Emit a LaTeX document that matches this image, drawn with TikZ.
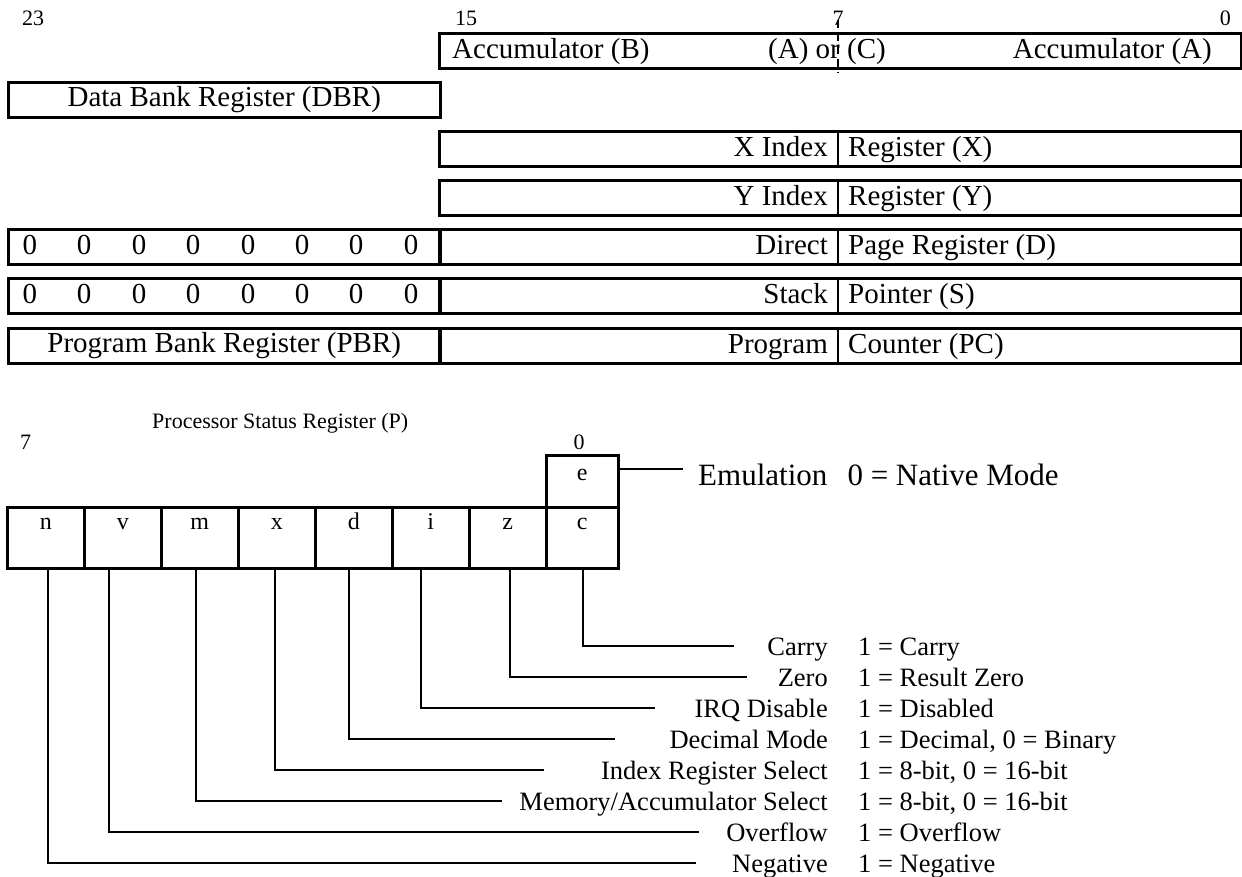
\documentclass[tikz,border=0pt]{standalone}
\usepackage{fontspec}
\setmainfont{Liberation Serif}
\usetikzlibrary{positioning}

\begin{document}
\begin{tikzpicture}[x=1pt, y=-1pt,
            reg box/.style={draw, line width=2.5pt, inner sep=0pt, minimum height=35pt, anchor=north west, font=\fontsize{29}{34}\selectfont},
            reg text/.style={font=\fontsize{29}{34}\selectfont, inner sep=0pt},
            bit num/.style={font=\fontsize{22}{26}\selectfont, inner sep=0pt},
            flag box/.style={draw, line width=2.5pt, inner sep=0pt, minimum width=77pt, minimum height=61pt, anchor=north west},
            flag text/.style={font=\fontsize{24}{28}\selectfont, inner sep=0pt, anchor=base},
            desc text/.style={font=\fontsize{26.5}{31}\selectfont, inner sep=0pt},
            flag line/.style={line width=2pt},
            ]
            \useasboundingbox (0,0) rectangle (1242,876);
            \coordinate (div) at (838,0);

            % register boxes
            \node[reg box, minimum width=802pt] (acc) at (438,32) {};
            \node[reg box, minimum width=432pt] (dbr) at (7,81) {Data Bank Register (DBR)};
            \node[reg box, minimum width=802pt] (xreg) at (438,130) {};
            \node[reg box, minimum width=802pt] (yreg) at (438,179) {};
            \node[reg box, minimum width=432pt] (dhi) at (7,228) {};
            \node[reg box, minimum width=802pt] (dreg) at (438,228) {};
            \node[reg box, minimum width=432pt] (shi) at (7,277) {};
            \node[reg box, minimum width=802pt] (sreg) at (438,277) {};
            \node[reg box, minimum width=432pt] (pbr) at (7,327) {Program Bank Register (PBR)};
            \node[reg box, minimum width=802pt] (pc) at (438,327) {};

            \draw[line width=2pt] (xreg.north -| div) -- (xreg.south -| div);
            \draw[line width=2pt] (yreg.north -| div) -- (yreg.south -| div);
            \draw[line width=2pt] (dreg.north -| div) -- (dreg.south -| div);
            \draw[line width=2pt] (sreg.north -| div) -- (sreg.south -| div);
            \draw[line width=2pt] (pc.north -| div) -- (pc.south -| div);
            \draw[line width=1.5pt, dash pattern=on 8pt off 5pt] ([yshift=12pt]acc.north -| div) -- ([yshift=-3pt]acc.south -| div);

            % bit numbers
            \node[bit num, anchor=base west] (b23) at (22,25) {23};
            \node[bit num, anchor=base west] (b15) at (455,25) {15};
            \node[bit num, anchor=base] (b7) at (838,25) {7};
            \node[bit num, anchor=base east] (b0) at (1231,25) {0};

            % register texts
            \node[reg text, anchor=base west] (accb) at (452,58) {Accumulator (B)};
            \node[reg text, anchor=base] (accc) at (827,58) {(A) or (C)};
            \node[reg text, anchor=base east] (acca) at (1212,58) {Accumulator (A)};
            \node[reg text, anchor=base east] (xhi) at (828,156) {X Index};
            \node[reg text, anchor=base west] (xlo) at (848,156) {Register (X)};
            \node[reg text, anchor=base east] (yhi) at (828,205) {Y Index};
            \node[reg text, anchor=base west] (ylo) at (848,205) {Register (Y)};
            \node[reg text, anchor=base east] (dmid) at (828,254) {Direct};
            \node[reg text, anchor=base west] (dlo) at (848,254) {Page Register (D)};
            \node[reg text, anchor=base east] (smid) at (828,303) {Stack};
            \node[reg text, anchor=base west] (slo) at (848,303) {Pointer (S)};
            \node[reg text, anchor=base east] (pcmid) at (828,353) {Program};
            \node[reg text, anchor=base west] (pclo) at (848,353) {Counter (PC)};

            % zero bits
            \node[reg text, anchor=base] (d7) at (30,254) {0};
            \node[reg text, anchor=base] (d6) at (84,254) {0};
            \node[reg text, anchor=base] (d5) at (139,254) {0};
            \node[reg text, anchor=base] (d4) at (193,254) {0};
            \node[reg text, anchor=base] (d3) at (248,254) {0};
            \node[reg text, anchor=base] (d2) at (302,254) {0};
            \node[reg text, anchor=base] (d1) at (356,254) {0};
            \node[reg text, anchor=base] (d0) at (411,254) {0};
            \node[reg text, anchor=base] (s7) at (30,303) {0};
            \node[reg text, anchor=base] (s6) at (84,303) {0};
            \node[reg text, anchor=base] (s5) at (139,303) {0};
            \node[reg text, anchor=base] (s4) at (193,303) {0};
            \node[reg text, anchor=base] (s3) at (248,303) {0};
            \node[reg text, anchor=base] (s2) at (302,303) {0};
            \node[reg text, anchor=base] (s1) at (356,303) {0};
            \node[reg text, anchor=base] (s0) at (411,303) {0};

            % status register
            \node[bit num, anchor=base west] (ptitle) at (152,428) {Processor Status Register (P)};
            \node[bit num, anchor=base west] (p7) at (20,449) {7};
            \node[bit num, anchor=base] (p0) at (579,449) {0};

            \node[flag box] (n) at (6,506) {};
            \node[flag box] (v) at (83,506) {};
            \node[flag box] (m) at (160,506) {};
            \node[flag box] (x) at (237,506) {};
            \node[flag box] (d) at (314,506) {};
            \node[flag box] (i) at (391,506) {};
            \node[flag box] (z) at (468,506) {};
            \node[flag box, minimum width=72pt] (c) at (545,506) {};
            \node[flag box, minimum width=72pt, minimum height=52pt] (e) at (545,454) {};

            \node[flag text] (nt) at ([yshift=-23pt]n.north) {n};
            \node[flag text] (vt) at ([yshift=-23pt]v.north) {v};
            \node[flag text] (mt) at ([yshift=-23pt]m.north) {m};
            \node[flag text] (xt) at ([yshift=-23pt]x.north) {x};
            \node[flag text] (dt) at ([yshift=-23pt]d.north) {d};
            \node[flag text] (it) at ([yshift=-23pt]i.north) {i};
            \node[flag text] (zt) at ([yshift=-23pt]z.north) {z};
            \node[flag text] (ct) at ([yshift=-23pt]c.north) {c};
            \node[flag text] (et) at ([yshift=-26pt]e.north) {e};

            % emulation
            \coordinate (eend) at (683,469);
            \draw[flag line] (e.east |- eend) -- (eend);
            \node[font=\fontsize{31}{36}\selectfont, inner sep=0pt, anchor=base west] (emul) at (698,485) {Emulation\hspace{0.65em}0 = Native Mode};

            % flag descriptions
            \coordinate (cend) at (734,646);
            \coordinate (zend) at (747,677);
            \coordinate (iend) at (655,708);
            \coordinate (dend) at (615,739);
            \coordinate (xend) at (544,770);
            \coordinate (mend) at (502,801);
            \coordinate (vend) at (699,832);
            \coordinate (nend) at (696,863);

            \draw[flag line] ([xshift=1pt]c.south) |- (cend);
            \draw[flag line] ([xshift=2pt]z.south) |- (zend);
            \draw[flag line] ([xshift=-10pt]i.south) |- (iend);
            \draw[flag line] ([xshift=-5pt]d.south) |- (dend);
            \draw[flag line] ([xshift=-2pt]x.south) |- (xend);
            \draw[flag line] ([xshift=-4pt]m.south) |- (mend);
            \draw[flag line] ([xshift=-14pt]v.south) |- (vend);
            \draw[flag line] ([xshift=2pt]n.south) |- (nend);

            \node[desc text, anchor=base east] (carry) at (828,655) {Carry};
            \node[desc text, anchor=base west] (carryv) at (858,655) {1 = Carry};
            \node[desc text, anchor=base east] (zero) at (828,686) {Zero};
            \node[desc text, anchor=base west] (zerov) at (858,686) {1 = Result Zero};
            \node[desc text, anchor=base east] (irq) at (828,717) {IRQ Disable};
            \node[desc text, anchor=base west] (irqv) at (858,717) {1 = Disabled};
            \node[desc text, anchor=base east] (dec) at (828,748) {Decimal Mode};
            \node[desc text, anchor=base west] (decv) at (858,748) {1 = Decimal, 0 = Binary};
            \node[desc text, anchor=base east] (idx) at (828,779) {Index Register Select};
            \node[desc text, anchor=base west] (idxv) at (858,779) {1 = 8-bit, 0 = 16-bit};
            \node[desc text, anchor=base east] (mem) at (828,810) {Memory/Accumulator Select};
            \node[desc text, anchor=base west] (memv) at (858,810) {1 = 8-bit, 0 = 16-bit};
            \node[desc text, anchor=base east] (ovf) at (828,841) {Overflow};
            \node[desc text, anchor=base west] (ovfv) at (858,841) {1 = Overflow};
            \node[desc text, anchor=base east] (neg) at (828,872) {Negative};
            \node[desc text, anchor=base west] (negv) at (858,872) {1 = Negative};
        \end{tikzpicture}
\end{document}
